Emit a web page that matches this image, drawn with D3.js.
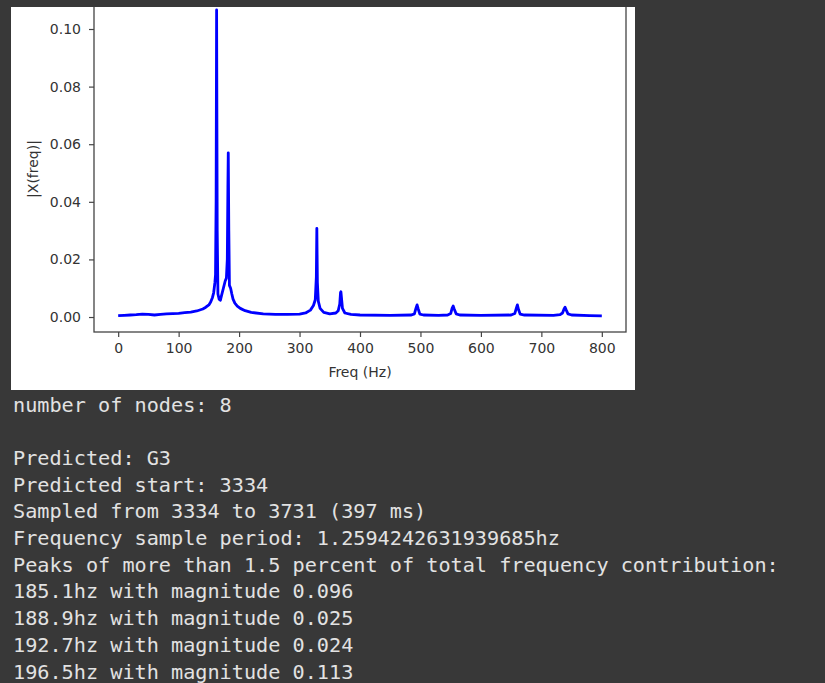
<!DOCTYPE html>
<html>
<head>
<meta charset="utf-8">
<script src="https://cdn.jsdelivr.net/npm/d3@7"></script>
<style>
  html, body { margin: 0; padding: 0; background: #383838; }
  svg { display: block; }
</style>
</head>
<body>
<svg id="view" width="825" height="683"></svg>
<script>
// Spectrum samples: frequency (Hz) and magnitude |X(freq)|
const freqHz = [
  0, 10, 20, 30, 40, 50, 60, 70, 80, 90, 100, 110, 120, 130, 140, 145, 150, 153, 156, 158,
  160, 161, 162, 162.8, 163.8, 165, 167, 169, 171, 174, 177, 179, 180.5, 181.5, 182.1, 183, 184,
  186, 188, 190, 193, 197, 202, 210, 220, 240, 260, 280, 300, 310, 318, 323, 326, 327.8, 328.6,
  329.5, 331, 334, 340, 350, 360, 364, 366.5, 367.8, 368.4, 369.2, 371, 375, 385, 400, 450, 485,
  490, 492.5, 494.4, 496.3, 499, 505, 530, 545, 550, 552.3, 554.1, 556, 559, 565, 600, 650, 656,
  658.5, 660.3, 662.2, 665, 672, 720, 731, 735, 737.5, 739.2, 741, 744, 750, 780, 800
];
const magnitude = [
  0.0005, 0.0006, 0.0007, 0.0008, 0.0010, 0.0009, 0.0007, 0.0009, 0.0011, 0.0012, 0.0013, 0.0015,
  0.0017, 0.0021, 0.0028, 0.0034, 0.0042, 0.0052, 0.0068, 0.0085,
  0.0120, 0.0146, 0.0400, 0.1066, 0.0300, 0.0080, 0.0062, 0.0058, 0.0075, 0.0100, 0.0125, 0.0135,
  0.0200, 0.0450, 0.0570, 0.0300, 0.0110,
  0.0100, 0.0080, 0.0062, 0.0048, 0.0038, 0.0030, 0.0022, 0.0016, 0.0011, 0.0009, 0.0009, 0.0010,
  0.0014, 0.0024, 0.0040, 0.0060, 0.0140, 0.0308,
  0.0120, 0.0055, 0.0030, 0.0016, 0.0011, 0.0014, 0.0022, 0.0045, 0.0085, 0.0088, 0.0070, 0.0030,
  0.0014, 0.0009, 0.0007, 0.0006, 0.0007,
  0.0011, 0.0030, 0.0042, 0.0028, 0.0010, 0.0007, 0.0006, 0.0007, 0.0012, 0.0030, 0.0038, 0.0027,
  0.0011, 0.0007, 0.0006, 0.0007, 0.0012,
  0.0030, 0.0042, 0.0026, 0.0010, 0.0007, 0.0006, 0.0008, 0.0014, 0.0028, 0.0034, 0.0025, 0.0011,
  0.0007, 0.0005, 0.0004
];
const xTicks = [0, 100, 200, 300, 400, 500, 600, 700, 800];
const yTicks = [0.00, 0.02, 0.04, 0.06, 0.08, 0.10];
const xLabel = "Freq (Hz)";
const yLabel = "|X(freq)|";

// Console output printed under the plot
const consoleLines = [
  "number of nodes: 8",
  "",
  "Predicted: G3",
  "Predicted start: 3334",
  "Sampled from 3334 to 3731 (397 ms)",
  "Frequency sample period: 1.2594242631939685hz",
  "Peaks of more than 1.5 percent of total frequency contribution:",
  "185.1hz with magnitude 0.096",
  "188.9hz with magnitude 0.025",
  "192.7hz with magnitude 0.024",
  "196.5hz with magnitude 0.113"
];

const svg = d3.select("#view");

// Figure image panel
const fig = { x: 11, y: 7, w: 624, h: 383 };
svg.append("defs").append("clipPath").attr("id", "figClip")
  .append("rect").attr("x", fig.x).attr("y", fig.y).attr("width", fig.w).attr("height", fig.h);

const g = svg.append("g").attr("clip-path", "url(#figClip)");
g.append("rect").attr("x", fig.x).attr("y", fig.y).attr("width", fig.w).attr("height", fig.h)
  .attr("fill", "#ffffff");

// Axes box
const box = { left: 94, right: 626, top: -7, bottom: 332 };
const x = d3.scaleLinear().domain([-40, 840]).range([box.left, box.right]);
const y = d3.scaleLinear().domain([-0.0052, 0.1125]).range([box.bottom, box.top]);

const axisColor = "#444";
const tickFont = "DejaVu Sans, sans-serif";

const xAxis = g.append("g").attr("transform", `translate(0,${box.bottom})`)
  .call(d3.axisBottom(x).tickValues(xTicks).tickFormat(d3.format("d")).tickSize(5).tickPadding(6));
const yAxis = g.append("g").attr("transform", `translate(${box.left},0)`)
  .call(d3.axisLeft(y).tickValues(yTicks).tickFormat(d3.format(".2f")).tickSize(5).tickPadding(8));

[xAxis, yAxis].forEach(a => {
  a.select(".domain").remove();
  a.selectAll(".tick line").attr("stroke", axisColor).attr("stroke-width", 1.2);
  a.selectAll(".tick text").attr("fill", "#333").style("font-family", tickFont).style("font-size", "14px");
});

// Spines (top spine lies above the visible panel)
g.append("rect")
  .attr("x", box.left).attr("y", box.top)
  .attr("width", box.right - box.left).attr("height", box.bottom - box.top)
  .attr("fill", "none").attr("stroke", axisColor).attr("stroke-width", 1.3);

// Spectrum line
const pts = freqHz.map((f, i) => [f, magnitude[i]]);
const line = d3.line().x(d => x(d[0])).y(d => y(d[1]));
g.append("path").datum(pts)
  .attr("d", line)
  .attr("fill", "none")
  .attr("stroke", "#0000ff")
  .attr("stroke-width", 2.8)
  .attr("stroke-linejoin", "round");

// Axis labels
g.append("text")
  .attr("x", (box.left + box.right) / 2).attr("y", 377)
  .attr("text-anchor", "middle")
  .attr("fill", "#333").style("font-family", tickFont).style("font-size", "14px")
  .text(xLabel);
g.append("text")
  .attr("transform", "translate(38,169) rotate(-90)")
  .attr("text-anchor", "middle")
  .attr("fill", "#333").style("font-family", tickFont).style("font-size", "14px")
  .text(yLabel);

// Console text
svg.append("g").selectAll("text").data(consoleLines).join("text")
  .attr("x", 13)
  .attr("y", (d, i) => 411.5 + i * 26.7)
  .attr("fill", "#e2e2e2")
  .style("font-family", "DejaVu Sans Mono, monospace")
  .style("font-size", "20.2px")
  .style("white-space", "pre")
  .text(d => d);
</script>
</body>
</html>
